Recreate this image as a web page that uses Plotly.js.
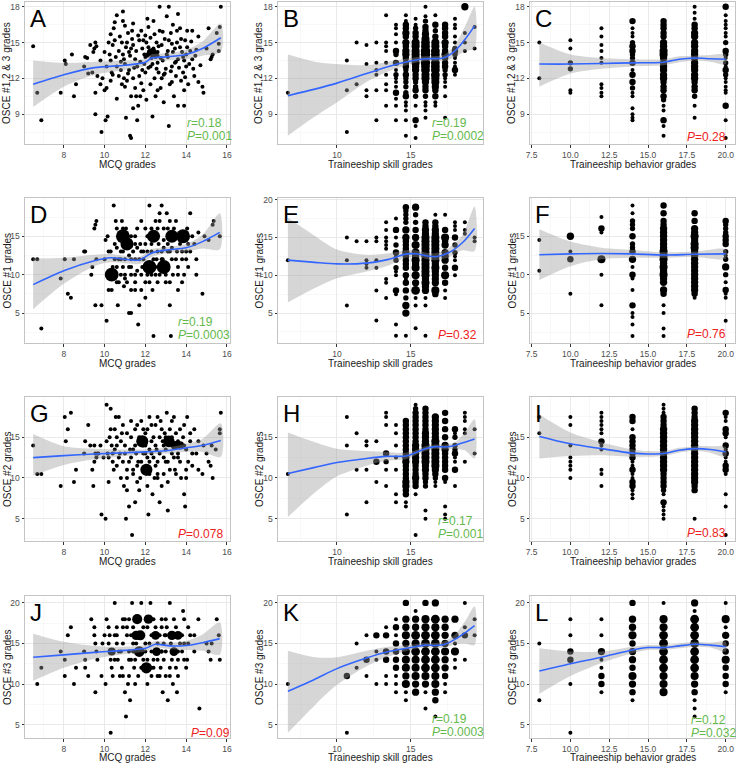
<!DOCTYPE html>
<html>
<head>
<meta charset="utf-8">
<script src="https://cdn.plot.ly/plotly-3.0.1.min.js"></script>
<style>body{margin:0;background:#fff}#chart{width:737px;height:763px}</style>
</head>
<body>
<div id="chart"></div>
<script>
// points: [x, y] or [x, y, count] ; grid panels: [x, [y | [y, count], ...]]
// fits (loess): [x, fit, lower, upper]

var ptsA = [[6.5,14.7],[6.7,10.8],[6.9,8.5],[7.85,10.8],[8.05,13.5],[8.1,13.2],[8.4,14.0],[8.5,10.5],[8.6,11.5],[9.0,13.0],[9.05,13.8],[9.15,13.7],[9.3,14.8],[9.4,12.5],[9.45,14.2],[9.5,14.5],[9.55,15.0],[9.55,10.8],[9.55,9.0],[9.6,14.7],[9.65,12.2],[9.8,11.5],[9.85,7.5],[10.0,14.2],[10.0,11.0],[10.05,8.5],[10.1,11.2],[10.15,8.8],[10.2,15.0],[10.25,14.0],[10.3,13.5],[10.35,12.5],[10.4,12.3],[10.45,16.2],[10.5,16.7],[10.5,15.2],[10.6,17.3],[10.6,13.0],[10.6,10.3],[10.7,14.3],[10.75,15.5],[10.8,12.7],[10.85,11.5],[10.9,16.8],[10.9,14.0],[10.95,12.0],[11.0,16.4],[11.0,13.2],[11.05,8.7],[11.1,11.8],[11.15,15.8],[11.2,14.2],[11.2,12.7],[11.25,7.2],[11.3,7.0],[11.3,10.5],[11.35,16.0],[11.4,14.8],[11.4,9.5],[11.5,13.6],[11.5,11.2],[11.55,10.5],[11.6,8.5],[11.65,9.7],[11.7,15.2],[11.7,12.2],[11.75,10.5],[11.8,16.0],[11.85,14.5],[11.9,11.0],[11.95,13.2],[12.0,15.6],[12.0,12.5],[12.05,10.2],[12.1,14.0],[12.15,16.3],[12.2,14.3],[12.25,13.0],[12.25,11.5],[12.3,14.1],[12.35,8.8],[12.4,14.5],[12.4,16.8],[12.45,12.0],[12.5,13.8],[12.5,10.5],[12.55,15.0],[12.6,14.2],[12.65,12.5],[12.7,18.0],[12.7,16.0],[12.75,11.2],[12.8,14.8],[12.85,13.5],[12.9,10.0],[12.95,15.3],[13.0,12.8],[13.05,17.2],[13.1,14.3],[13.15,8.0],[13.15,18.0],[13.2,11.5],[13.25,15.8],[13.3,13.0],[13.35,16.5],[13.4,10.5],[13.45,14.5],[13.5,12.2],[13.55,15.0],[13.6,9.7],[13.6,13.6],[13.7,16.2],[13.75,11.8],[13.8,14.2],[13.85,12.5],[13.9,9.7],[13.95,15.2],[14.0,13.0],[14.05,16.0],[14.1,11.5],[14.2,14.3],[14.3,16.0],[14.4,12.2],[14.5,14.4],[14.6,11.7],[14.8,11.3],[14.85,10.8],[15.0,14.5],[15.1,16.2],[15.2,13.6],[15.25,13.8],[15.3,14.0],[15.5,15.8],[15.6,14.3],[15.65,16.3],[15.7,18.0],[15.6,14.9],[12.2,14.0],[12.35,14.4],[12.45,13.9],[12.15,14.6],[12.3,13.7],[12.55,14.1],[12.25,14.2,3],[12.4,14.1,2],[10.8,13.4],[11.3,14.5],[11.6,13.0],[11.9,15.2],[12.0,13.8],[12.6,13.3],[12.9,12.3],[13.1,13.8],[13.3,14.9],[13.5,13.4],[13.7,14.6],[14.0,14.0],[11.1,15.0],[10.3,15.7],[13.9,13.5],[14.3,13.6],[12.8,12.0],[11.4,12.0],[10.1,13.0],[9.8,13.5],
  [10.4,14.8],[10.55,13.8],[10.7,12.2],[10.85,15.0],[10.95,13.6],[11.05,14.6],[11.15,12.4],[11.25,13.9],[11.35,15.3],[11.45,12.9],[11.55,14.3],[11.65,15.6],[11.75,13.4],[11.85,12.7],[11.95,14.0],[12.05,15.0],[12.15,12.9],[12.25,15.4],[12.35,13.2],[12.45,15.7],[12.55,12.8],[12.65,14.7],[12.75,13.7],[12.85,15.9],[12.95,12.4],[13.05,14.0],[13.15,15.2],[13.25,12.6],[13.35,14.2],[13.45,13.3],[13.55,16.0],[13.65,12.9],[13.75,15.3],[13.85,13.8],[13.95,12.1],[14.05,14.6],[14.15,13.2],[14.25,15.1],[14.35,12.8],[14.45,13.9],[14.6,15.5],[14.7,13.1],[12.3,14.3,2],[12.2,14.15,2],[12.45,14.3],[12.1,13.9],[12.6,13.9],[12.35,13.95],[11.0,11.3],[11.8,11.6],[12.6,11.0],[13.3,11.7],[13.9,11.0],[10.3,11.8],[11.4,16.6],[12.1,17.0],[13.6,17.4],[10.9,17.6],[9.9,12.0],[9.2,12.4]];
var fitA = [[6.5,11.5,9.6,13.5],[8,12.3,11.3,13.3],[9.5,12.9,12.3,13.4],[11,13.1,12.7,13.5],[12,13.35,13.05,13.65],[12.3,13.7,13.4,14.0],[13,13.8,13.5,14.1],[14,14.0,13.6,14.4],[14.8,14.5,13.9,15.1],[15.7,15.4,14.2,16.6]];

var gridB = [[6.67,[10.8]],[10.67,[13.5,11,7.5]],[11.33,[15,11.5]],[12,[14.8,13.2,11,10.5]],[12.67,[15,13.3,12.7,12.3,11,8.5]],[13.33,[17.3,15,14.7,14.3,13.3,12.3,11.5,11,9.7]],
  [14,[16.5,16.2,15.7,15,[14.3,3],[14,2],[13.3,3],12.7,[12.3,2],12,11.7,11.3,[10.8,3],10.3,9.7,8.5]],
  [14.67,[17.3,16.8,[16.5,3],[16.2,3],[15.8,4],[15.5,3],[15,4],[14.7,3],[14.3,4],[14,4],[13.7,3],[13.3,3],[13,3],[12.7,2],[12.3,3],[12,2],[11.7,2],[11.3,2],[10.8,2],[10.5,3],10,9.7,9.3,8.5,7.2]],
  [15.33,[17,16.5,[16.2,2],[15.8,3],[15.5,3],[15,5],[14.7,5],[14.3,5],[14,5],[13.7,5],[13.3,5],[13,4],[12.7,4],[12.3,3],[12,3],[11.7,2],[11.3,2],[11,3],[10.5,2],9.7,[8.5,3],8,7]],
  [16,[18,17.2,[16.8,2],[16.3,3],[16,3],[15.7,4],[15.3,5],[15,6],[14.7,6],[14.3,7],[14,7],[13.7,6],[13.3,7],[13,6],[12.7,6],[12.3,5],[12,5],[11.7,4],[11.3,3],[11,3],[10.5,2],10,9.7,9.3,8.7]],
  [16.67,[17.3,[16.5,3],[16,2],[15.5,3],[15,5],[14.7,5],[14.3,6],[14,6],[13.7,6],[13.3,6],[13,6],[12.7,6],[12.3,6],[12,5],[11.7,5],[11.3,4],[11,3],[10.5,3],10,9.7]],
  [17.33,[[16.5,3],[16.2,3],[15.8,3],[15.5,3],[15,4],[14.7,3],[14.3,3],[14,4],[13.7,3],[13.3,3],[13,3],[12.7,2],[12.3,2],12,11.7,11.3,10.5,8.7]],
  [18,[17,16.5,16.2,15.5,15,[14.5,2],[14.3,3],[14,2],13.7,13.3,13,[12.7,3],12.3]],[18.67,[[18,4],15.8,15,14.3]],[19.33,[16.3,14.5]]];
var fitB = [[6.67,10.55,7.2,14.0],[8.5,11.1,8.8,13.4],[10,11.6,10.0,13.2],[12,12.4,11.7,13.1],[13.5,13.0,12.6,13.4],[15,13.45,13.2,13.7],[16,13.65,13.45,13.85],[17.2,13.7,13.45,13.95],[18,14.3,13.8,14.8],[18.7,15.3,14.3,16.4],[19.33,16.4,14.5,18.0]];

var gridC = [[8,[15,12]],[10,[15.2,14.5,[13.3,2],[12.8,2],11,10.8]],[12,[16.2,15.5,14.8,14.3,13.7,13.3,11.5,11.2,10.8,10.5]],
  [14,[[16.8,3],16.2,15.8,15.5,[15,2],[14.7,3],[14.3,3],[14,2],[13.7,2],[13.3,3],12.7,[12.3,3],[11.7,3],[11.2,2],10.8,10.5,9.5,9,8.7,8.5]],
  [16,[[16.8,3],[16.5,3],[16.2,3],[15.8,3],[15.5,3],[15,4],[14.7,4],[14.3,5],[14,5],[13.7,4],[13.3,4],[13,4],[12.7,4],[12.3,4],[12,4],[11.7,3],[11.3,3],[11,3],[10.5,3],[10.2,2],9.7,9.3,[8.5,3],8,7.2]],
  [18,[18,17.5,17,[16.5,3],[16.2,3],[15.8,4],[15.5,4],[15,4],[14.7,4],[14.3,4],[14,4],[13.7,4],[13.3,4],[13,4],[12.7,4],[12.3,4],[12,4],[11.7,3],[11.3,3],[11,3],[10.5,2],9.7,8.7]],
  [20,[[18,3],17.3,16.8,16.5,16.2,15.8,15.5,[15,2],[14.3,3],[14,2],13.7,[13.3,2],13,[12.7,3],[12.3,2],12,11.7,11.3,11,10.8,[9.7,3],8.5,7]]];
var fitC = [[8,13.2,11.3,15.0],[10,13.2,12.4,14.0],[12,13.25,12.8,13.7],[14,13.3,13.0,13.6],[16,13.35,13.1,13.6],[17,13.6,13.35,13.85],[18,13.7,13.5,13.9],[19,13.65,13.4,13.95],[20,13.6,13.2,14.0]];

var ptsD = [[6.5,12],[6.7,12],[6.9,3],[7.85,9.5],[8.05,12],[8.2,7.5],[8.35,7],[8.5,12],[9.0,13],[9.05,13],[9.4,11],[9.5,16],[9.55,16.5],[9.6,17],[9.6,12],[9.55,6],[9.85,6],[9.35,10],[10.0,12],[10.05,14.5],[10.1,4],[10.15,15],[10.2,8],[10.3,13],[10.35,8],[10.45,19],[10.5,12],[10.55,17],[10.6,16],[10.65,6],[10.7,9],[10.8,13],[10.85,17],[10.9,11],[10.95,8.5],[11.0,12],[11.05,16],[11.1,9],[11.2,5],[11.3,5],[11.3,8],[11.4,13],[11.5,10],[11.5,12],[11.6,16],[11.65,3.5],[11.7,6],[11.75,14],[11.8,8],[11.85,11],[11.9,12],[12.0,16],[12.0,7],[12.1,13],[12.2,19],[12.3,10],[12.35,8],[12.4,2],[12.5,17],[12.55,12],[12.6,13],[12.65,14],[12.7,18],[12.8,19],[12.85,12],[12.9,16],[13.0,9],[13.05,18],[13.1,13],[13.2,6],[13.25,2],[13.3,12],[13.35,10],[13.5,17],[13.55,13],[13.6,8],[13.7,14],[13.8,12],[13.9,10],[14.0,13],[14.05,16],[14.1,11],[14.2,18],[14.3,15],[14.4,14],[14.5,10],[14.6,15.5],[14.8,7.5],[14.9,15],[15.1,14.5],[15.3,16.5],[15.35,17],[15.65,15],[11.5,9],[12.2,9],[13.0,10],[11.2,11],[10.9,13],[12.9,13.5],[13.2,13],[12.0,14],[11.5,15],[12.6,16],[10.2,10],[11.8,10],[10.6,11],[11.0,10],[12.4,12],[13.6,11],[11.3,12],[12.7,10],[10.8,12],[13.1,16],[11.9,13],[12.3,14],
  [10.5,14],[10.7,15],[11.3,15],[11.5,14],[11.8,13],[12.1,15],[12.6,15],[13.1,14],[13.6,15],[14.2,13],[10.4,11],[10.7,12],[11.3,11],[11.7,12],[12.0,11],[12.5,11],[12.8,12],[13.1,11],[13.5,12],[14.0,12],[10.6,9],[11.0,9.5],[11.5,8],[12.0,9],[12.6,9],[13.2,9],[13.8,9],[10.8,10],[11.3,10],[12.1,10],[12.5,10],[13.6,10],[10.2,13],[10.6,13.5],[11.6,13.5],[12.3,13],[12.8,13],[13.3,13.5],[13.8,13],[14.5,12],[12.7,17],[13.2,17],[11.8,17],[12.3,16],[13.4,16],[10.9,16],[14.1,14],[11.2,12.5],[12.9,14.5],[11.6,10.5],
  [10.35,10,16],[10.9,15,16],[11.1,14,14],[12.2,11,16],[12.4,15,14],[12.9,11,16],[13.3,15,14],[13.85,15,16]];
var fitD = [[6.5,8.7,5.5,12.1],[8,10.5,8.8,12.2],[9.5,11.8,11.1,12.6],[10.3,12.2,11.6,12.7],[11.7,11.9,11.4,12.3],[12.3,12.8,12.3,13.3],[13,13.2,12.8,13.6],[14,13.5,13.0,14.0],[14.8,14.3,13.4,15.2],[15.65,15.5,13.3,18.0]];

var gridE = [[6.67,[12]],[10.67,[15,12,6]],[11.33,[14.5]],[12,[14.5,12,11.5,11]],[12.67,[15,14.5,12,11,8,4]],[13.33,[17,16,15,14.5,14,13.5,9.5,9,7]],
  [14,[17.5,[16,3],15,[14,2],[13,3],12.5,[12,2],[11,2],10.5,10,[8,3],7.5,3.5,2]],
  [14.67,[[19,3],[18.5,2],[18,2],[17.5,2],[17,2],[16,4],[15,4],[14.5,3],[14,3],[13.5,3],[13,4],[12.5,3],[12,3],[11.5,3],[11,3],[10,3],9.5,[9,3],[8,3],[7,2],[6,4],[5,4],2]],
  [15.33,[[19,4],[18,2],[17,2],[16,3],[15,4],[14,5],[13,5],[12.5,4],[12,5],[11.5,4],[11,5],[10,5],[9,4],[8,6],7,6,3]],
  [16,[[17,3],[16.5,3],[16,4],[15.5,4],[15,5],[14.5,5],[14,5],[13.5,5],[13,5],[12.5,5],[12,5],[11.5,5],[11,5],[10.5,5],[10,5],[9.5,4],[9,5],[8.5,4],[8,4],7,6,2]],
  [16.67,[18,[17,3],[16.5,3],[16,4],[15.5,4],[15,5],[14.5,5],[14,5],[13.5,5],[13,5],[12.5,5],[12,5],[11.5,4],[11,5],[10.5,4],[10,4],[9.5,4],[9,4],[8,5],[7.5,3]]],
  [17.33,[18,[16,3],[15,5],[14.5,3],[14,4],[13,4],[12.5,4],[12,4],[11,3],[10,5],[9,3],8,7]],
  [18,[17,16.5,16,[15,3],[14,2],[13,2],12.5,12,[11,3],10]],[18.67,[17,16,15.5]],[19.33,[15,14.5]]];
var fitE = [[6.67,12.0,6.4,17.6],[8.5,11.7,8.3,15.2],[10,11.5,9.6,13.4],[12,11.6,10.5,12.7],[13.5,12.1,11.3,12.9],[14.67,12.8,12.3,13.3],[15.3,12.85,12.4,13.3],[16,12.6,12.2,13.0],[16.67,12.45,12.0,12.9],[17.5,12.9,12.3,13.5],[18.5,14.3,13.3,15.3],[19.33,16.2,13.2,19.1]];

var gridF = [[8,[14.5,10.5]],[10,[[15,4],13,[12,3],7.5]],[12,[17.5,[16,3],15.5,[12,5],10,6]],
  [14,[19,18,[17,2],[16.5,2],[16,2],[15,3],[14,2],[13.5,2],[13,3],[12,4],11,[10,3],9.5,8,[6,3],5,4.5,3.5,2]],
  [16,[[19,3],[18,3],[17,3],[16.5,3],[16,4],[15.5,4],[15,4],[14.5,4],[14,4],[13.5,4],[13,5],[12.5,5],[12,5],[11.5,4],[11,5],[10.5,4],[10,5],[9.5,4],[9,4],[8,4],[7.5,3],6,5,3,2]],
  [18,[[18,3],[17,3],[16,4],[15.5,4],[15,5],[14.5,4],[14,5],[13.5,5],[13,4],[12.5,4],[12,4],[11.5,4],[11,4],[10.5,4],[10,4],[9.5,4],[9,4],[8.5,4],[8,4],[7.5,3],7]],
  [20,[[17,3],[16.5,2],[16,2],[15.5,2],[15,3],[14.5,3],[14,3],[13,2],12.5,[12,2],[11,4],[10,2],9,[8,3],7.5,7,4]]];
var fitF = [[8,12.6,9.3,15.9],[10,12.7,11.1,14.3],[12,12.75,12.0,13.5],[14,12.7,12.2,13.2],[16,12.55,12.2,12.9],[18,12.65,12.3,13.0],[20,12.7,12.1,13.3]];

var ptsG = [[6.5,14],[6.7,10.5],[6.9,10.5],[7.85,9],[8.05,17.5],[8.1,14.5],[8.2,16],[8.35,18],[8.5,9.5],[8.6,11],[9.0,13],[9.05,14.5],[9.2,16.5],[9.3,14],[9.4,11],[9.45,9],[9.5,12],[9.55,13],[9.6,12.5],[9.65,13],[9.85,5.5],[9.95,12.5],[10.05,5],[10.1,19],[10.15,13],[10.2,9.5],[10.25,15],[10.3,18.5],[10.35,14],[10.4,12],[10.45,11],[10.5,16],[10.55,17.5],[10.6,14],[10.7,17.5],[10.75,13],[10.8,10],[10.85,15.5],[10.9,12],[10.95,9],[11.05,5],[11.1,8.5],[11.2,6.5],[11.25,13.5],[11.3,15],[11.35,3],[11.4,11],[11.5,7],[11.55,13],[11.6,16.5],[11.65,12],[11.7,8.5],[11.75,10],[11.8,17],[11.9,13],[12.0,15.5],[12.1,12.5],[12.15,5.5],[12.2,17.5],[12.3,13],[12.35,8],[12.4,15],[12.45,10],[12.5,16.5],[12.55,13.5],[12.6,12],[12.7,7],[12.75,17],[12.8,9],[12.85,14.5],[12.9,10.5],[12.95,15.5],[13.05,18],[13.1,6],[13.1,12],[13.2,16],[13.3,13],[13.4,17.5],[13.45,11],[13.5,15.5],[13.6,12.5],[13.7,16],[13.75,10],[13.85,15],[13.9,8],[13.95,6.5],[14.0,13.5],[14.05,17.5],[14.1,12],[14.2,14.5],[14.3,11.5],[14.4,16],[14.5,13],[14.6,11],[14.8,10.5],[14.85,14],[15.0,13],[15.1,12],[15.2,11.5],[15.25,14],[15.3,10],[15.45,13.5],[15.65,16],[15.7,18],[15.65,15.5],[10.5,13.5],[11.0,14],[11.5,14],[12.0,14],[12.5,14],[13.0,13.5],[11.8,12],[12.4,12.5],[10.8,14.5],[11.3,12.5],[11.9,16],[12.3,16.5],[12.7,15],[13.3,15],[12.2,10.5],[12.9,12.5],[11.1,11],[13.6,13],[12.6,10],[11.4,10.5],
  [10.3,16],[10.6,15],[10.9,16.5],[11.1,15.5],[11.3,17],[11.5,16],[11.7,15],[12.1,16],[12.3,14.5],[12.6,17.5],[12.8,16],[13.0,15],[13.3,17],[13.6,14.5],[13.9,16.5],[14.2,15.5],[10.4,13],[10.7,12.5],[11.0,13],[11.2,12],[11.4,13.5],[11.6,11.5],[12.0,13],[12.2,12],[12.5,11.5],[12.7,13],[13.0,12],[13.2,11],[13.4,12.5],[13.7,12],[14.0,11],[14.3,13],[10.6,11.5],[11.1,10],[11.6,9.5],[12.1,9],[12.6,10.5],[13.1,9.5],[13.5,10.5],[14.0,10],[10.1,14.5],[9.8,14],[9.5,14],[9.7,13],[11.9,14],[12.2,13.5],[12.9,14],[13.9,14],[14.6,14.5],[10.2,12.5],
  [11.85,14.5,12],[12.05,11,12],[13.15,14.5,11],[13.45,14,6],[13.7,14,5]];
var fitG = [[6.5,12.5,10.3,15.4],[8,12.75,11.6,13.9],[9.5,12.95,12.3,13.6],[11,13.1,12.7,13.5],[12,13.2,12.9,13.5],[13,13.35,13.0,13.7],[14,13.7,13.2,14.2],[14.8,14.0,13.2,14.8],[15.7,14.6,12.6,16.7]];

var gridH = [[6.67,[10.5]],[10.67,[17.5,14,5.5]],[11.33,[15.5,11]],[12,[14.5,14,11,7]],[12.67,[14.5,[12,3],9.5]],[13.33,[18,17.5,16.5,[13,3],[12,2],11,9]],[14,[16.5,15.5,14,12.5,11,8,7]],
  [14.67,[[17,3],[16.5,3],[16,3],[15.5,3],[15,3],[14.5,3],[14,3],[13.5,3],[13,3],[12.5,4],[12,4],[11.5,3],[11,3],[10.5,3],[10,3],[9.5,4],[9,4],[8.5,3],[8,3],7,6.5]],
  [15.33,[19,[18.5,2],[18,3],[17.5,3],[17,3],[16.5,3],[16,3],[15.5,3],[15,3],[14.5,3],[14,4],[13.5,4],[13,4],[12.5,4],[12,4],[11.5,3],[11,3],[10.5,3],[10,4],[9.5,3],[9,3],8,3]],
  [16,[[18.5,3],[18,3],[17.5,3],[17,3],[16.5,3],[16,3],[15.5,4],[15,4],[14.5,4],[14,5],[13.5,5],[13,5],[12.5,5],[12,5],[11.5,4],[11,4],[10.5,3],[10,3],[9.5,2],[9,2],6,5]],
  [16.67,[[17.5,4],[17,4],[16.5,4],[16,4],[15.5,4],[15,4],[14.5,5],[14,5],[13.5,5],[13,5],[12.5,5],[12,5],[11.5,5],[11,4],[10.5,3],[10,2],9.5,9]],
  [17.33,[[18,3],[17,3],[16,3],[15,3],[14,4],[13.5,4],[13,3],[12.5,3],[12,3],[11.5,3],[11,3],[10,3],9.5,6.5,5.5,5]],
  [18,[[16,3],15.5,[15,2],[14,2],[13.5,2],[13,3],12.5,12,[11,3],9]],[18.67,[18,17.5,17,16,15.5,12]],[19.33,[16,13]]];
var fitH = [[6.67,10.55,5.2,15.6],[8.5,11.3,8.2,14.4],[10,11.9,10.2,13.6],[12,12.4,11.5,13.3],[13.33,12.65,12.1,13.2],[14.67,12.7,12.3,13.1],[15.33,13.1,12.8,13.4],[16,13.6,13.3,13.9],[16.67,13.85,13.6,14.1],[17.33,13.8,13.5,14.1],[18,14.0,13.6,14.4],[18.67,14.4,13.4,15.6],[19.33,14.8,12.4,17.2]];

var gridI = [[8,[17.5,15.5]],[10,[17.5,16.5,14,12.5,12,11.5,11,10]],[12,[18,17.5,17,16.5,16,15.5,[14.5,3],14,13.5,11,10.5,9]],
  [14,[[17.5,3],[17,3],16,[15,3],[14.5,3],[14,3],[13.5,3],[13,3],[12.5,3],12,11.5,[11,3],10.5,10,[9.5,3],[9,3],8.5,8,7.5]],
  [16,[19,18.5,18,[17.5,3],[17,3],[16.5,3],[16,4],[15.5,4],[15,4],[14.5,4],[14,4],[13.5,4],[13,4],[12.5,4],[12,4],[11.5,4],[11,4],[10.5,3],[10,3],[9.5,3],[9,3],[8.5,2],8,[7,3],6.5,6,5.5,5]],
  [18,[[18.5,3],[18,3],[17.5,3],[17,4],[16.5,4],[16,4],[15.5,4],[15,4],[14.5,4],[14,4],[13.5,4],[13,4],[12.5,4],[12,4],[11.5,4],[11,4],[10.5,4],[10,4],[9.5,4],[9,3],[8.5,3],5]],
  [20,[[18,3],17.5,17,[16,3],[15.5,3],15,[14,3],13.5,[13,3],12.5,12,[11.5,3],[11,3],10.5,8,6.5,3]]];
var fitI = [[8,15.1,12.4,17.8],[10,14.2,12.7,15.6],[12,13.6,12.8,14.4],[14,13.05,12.6,13.5],[15,12.95,12.6,13.3],[16,13.0,12.7,13.3],[17,13.4,13.1,13.7],[18,13.6,13.3,13.9],[19,13.5,13.1,13.9],[20,13.2,12.6,13.8]];

var ptsJ = [[6.7,10],[6.9,12],[7.85,14],[8.05,13],[8.05,11],[8.2,16],[8.35,17],[8.5,10],[8.6,12],[9.0,14],[9.05,13],[9.05,12],[9.2,11],[9.35,18],[9.5,17],[9.5,16],[9.55,15],[9.55,9],[9.6,14],[9.65,13],[9.85,11],[9.9,15],[10.05,10],[10.1,18],[10.2,17],[10.25,16],[10.3,13],[10.3,4],[10.35,12],[10.4,11],[10.5,20],[10.6,15],[10.65,13],[10.75,11],[10.85,12],[10.9,17],[11.0,9],[11.05,6],[11.15,10],[11.25,8],[11.3,13],[11.35,20],[11.4,17],[11.45,12],[11.55,15],[11.65,11],[11.8,20],[11.9,13],[12.0,15],[12.1,17],[12.25,20],[12.3,11],[12.4,13],[12.5,17],[12.6,15],[12.75,12],[12.85,9],[12.9,13],[13.0,11],[13.05,17],[13.1,8],[13.2,20],[13.25,15],[13.35,10],[13.5,12],[13.55,9],[13.6,13],[13.7,15],[13.85,19],[13.9,18],[14.0,12],[14.05,13],[14.1,15],[14.2,16],[14.4,14],[14.6,18],[14.65,7],[15.0,15],[15.1,14],[15.2,13],[15.25,15],[15.5,18],[15.6,16],[15.65,13],[10.0,16],[10.8,14],[11.2,14],[12.2,15],[12.9,15],[13.0,14],[11.0,18],[12.8,18],[10.6,16],[11.1,16],[12.3,12],[11.5,13],[13.2,12],[12.7,11],[11.2,11],[13.8,14],[14.4,16],[12.95,16],[11.9,17],[12.8,14],
  [10.5,16],[10.9,15],[11.3,16],[11.4,15],[12.3,16],[12.7,16],[13.0,16],[13.8,16],[10.7,14],[11.4,14],[12.0,14],[12.3,14],[12.8,14.0],[13.6,14],[13.9,15],[10.2,15],[10.5,13],[11.2,13],[12.1,13],[12.6,13],[13.3,13],[13.9,13],[10.9,11],[11.5,10],[12.1,10],[12.6,11],[13.2,11],[13.6,11],[11.8,12],[12.4,12],[10.9,18],[11.2,18],[12.4,18],[13.0,18],[13.4,18],[10.6,17],[11.1,17],[12.8,17],[13.5,17],[14.1,17],
  [11.6,18,8],[12.15,18,7],[11.55,16,7],[11.75,16,8],[12.5,16,6],[13.3,16,7],[13.6,16,6],[11.7,14,9],[12.55,14,6],[13.4,14,6],[10.35,14,5],[12.05,12,10]];
var fitJ = [[6.5,13.3,10.4,16.2],[8,13.6,12.0,15.2],[9.5,13.9,13.1,14.7],[11,14.15,13.7,14.6],[12,14.4,14.0,14.8],[12.5,14.9,14.5,15.3],[13.2,14.7,14.3,15.1],[14,14.75,14.2,15.3],[14.8,15.1,14.1,16.1],[15.65,15.6,13.6,17.6]];

var gridK = [[6.67,[10]],[10.67,[[11,3],4]],[11.33,[15,12]],[12,[16,[13,3],11]],[12.67,[[16,3],14,13,10]],[13.33,[17,[16,3],[14,3],[13,3],11,10]],
  [14,[18,[17,3],16,[15,3],[14,3],[13,3],[12,3],11,10,9]],
  [14.67,[[20,3],[18,4],[17,4],[16,5],[15,4],[14,5],[13,5],[12,5],[11,4],[10,5],9,8]],
  [15.33,[19,[18,4],[17,4],[16,6],[15,5],[14,6],[13,5],[12,5],[11,5],[10,4],[9,4]]],
  [16,[[20,3],[18,5],[17,5],[16,6],[15,6],[14,6],[13,6],[12,6],[11,5],[10,4],9,7]],
  [16.67,[[20,4],[18,6],[17,5],[16,6],[15,6],[14,6],[13,6],[12,6],[11,5],[10,5],[9,4],[8,3],6]],
  [17.33,[[18,4],[17,4],[16,4],[15,4],[14,5],[13,4],[12,4],[11,3],10,9]],
  [18,[[18,4],[16,4],15,[14,5],13,12]],[18.67,[20,17,[16,3],13]],[19.33,[18,16]]];
var fitK = [[6.67,9.1,4.0,14.1],[8.5,10.6,7.4,13.3],[10,11.9,9.9,13.3],[12,13.2,12.2,14.1],[13.5,14.0,13.4,14.6],[15,14.5,14.2,14.85],[16,14.8,14.5,15.1],[16.67,14.75,14.45,15.05],[17.33,14.9,14.5,15.3],[18,15.5,14.9,16.1],[18.67,16.3,15.0,17.7],[19.33,17.2,14.8,19.6]];

var gridL = [[8,[15,8]],[10,[18,16,[14,3],[13,3],10,4]],[12,[18,16,[14,4],13,12,[11,3],[10,3],9]],
  [14,[[20,3],[18,4],[17,4],[16,5],[15,3],[14,4],[13,4],[12,3],[11,5],[10,4],[9,3],8]],
  [16,[20,[18,5],[17,5],[16,6],[15,6],[14,6],[13,6],[12,6],[11,5],[10,5],[9,5]]],
  [18,[[20,4],19,[18,6],[17,6],[16,6],[15,6],[14,6],[13,6],[12,6],[11,5],[10,4],[9,3],8,7,6]],
  [20,[20,[18,5],17,[16,4],[15,3],[14,3],[13,5],[12,3],[11,3],[10,3],9]]];
var fitL = [[8,11.6,8.8,14.4],[10,12.5,11.0,14.0],[12,13.3,12.6,14.0],[14,14.2,13.8,14.6],[15,14.5,14.2,14.8],[16,14.5,14.2,14.8],[17,14.7,14.4,15.0],[18,14.9,14.6,15.2],[19,14.8,14.5,15.1],[20,14.6,14.0,15.2]];

var letters = ['A','B','C','D','E','F','G','H','I','J','K','L'];
var xTitles = ['MCQ grades', 'Traineeship skill grades', 'Traineeship behavior grades'];
var yTitles = ['OSCE #1,2 & 3 grades', 'OSCE #1 grades', 'OSCE #2 grades', 'OSCE #3 grades'];
// [r text or null, P text, significant?]
var stats = [['0.18','0.001',1],['0.19','0.0002',1],[null,'0.28',0],['0.19','0.0003',1],[null,'0.32',0],[null,'0.76',0],
             [null,'0.078',0],['0.17','0.001',1],[null,'0.83',0],[null,'0.09',0],['0.19','0.0003',1],['0.12','0.032',1]];

var W = 737, H = 763;
var colPx = [[25,230],[278,483],[530,735]];
var rowPx = [[2,144],[198,343],[397,541],[596,738]];
var xRange = [[6.1,16.15],[6.0,19.9],[7.4,20.6]];
var xDt = [2,5,2.5];
var yRange = [[[6.5,18.4],[6.5,18.4],[6.5,18.4]],[[1.1,19.98],[1.04,20.22],[1.1,19.98]],[[2.25,19.95],[2.25,19.95],[2.25,19.95]],[[3.35,20.85],[3.35,20.85],[3.35,20.85]]];
var yDt = [3,5,5,5];
var statLeft = [185,430,685,176,436,685,176,436,685,189,430,689];
var statP = [136,136,137.5,335,335,334,534,534,533,733,732,733];

var panels = [
  {pts: ptsA, fit: fitA}, {grid: gridB, fit: fitB}, {grid: gridC, fit: fitC},
  {pts: ptsD, fit: fitD}, {grid: gridE, fit: fitE}, {grid: gridF, fit: fitF},
  {pts: ptsG, fit: fitG}, {grid: gridH, fit: fitH}, {grid: gridI, fit: fitI},
  {pts: ptsJ, fit: fitJ}, {grid: gridK, fit: fitK}, {grid: gridL, fit: fitL}
];

function px2x(p) { return p / W; }
function px2y(p) { return 1 - p / H; }

var data = [], annotations = [];
var layout = {
  width: W, height: H,
  margin: {l: 0, r: 0, t: 0, b: 0},
  paper_bgcolor: 'white', plot_bgcolor: 'white',
  showlegend: false,
  font: {family: 'Liberation Sans, Arial, sans-serif', color: '#1a1a1a'},
  annotations: annotations
};

var green = '#64b94c', red = '#ee2222';

panels.forEach(function(p, i) {
  var r = Math.floor(i / 3), c = i % 3;
  var xs = i === 0 ? 'x' : 'x' + (i + 1);
  var ys = i === 0 ? 'y' : 'y' + (i + 1);
  var xk = i === 0 ? 'xaxis' : 'xaxis' + (i + 1);
  var yk = i === 0 ? 'yaxis' : 'yaxis' + (i + 1);

  // scatter points, size grows with the count at that spot
  var px = [], py = [], pn = [];
  if (p.pts) {
    p.pts.forEach(function(d) { px.push(d[0]); py.push(d[1]); pn.push(d[2] || 1); });
  } else {
    p.grid.forEach(function(col) {
      col[1].forEach(function(v) {
        var yy = typeof v === 'number' ? v : v[0];
        var nn = typeof v === 'number' ? 1 : v[1];
        px.push(col[0]); py.push(yy); pn.push(nn);
      });
    });
  }
  data.push({
    type: 'scatter', mode: 'markers', x: px, y: py, xaxis: xs, yaxis: ys,
    marker: {color: '#000', opacity: 1, size: pn.map(function(n) { return 4 + 3.3 * (Math.sqrt(n) - 1); }), line: {width: 0}},
    hoverinfo: 'skip'
  });

  // confidence band + loess line
  var fx = p.fit.map(function(d) { return d[0]; });
  var fy = p.fit.map(function(d) { return d[1]; });
  var lo = p.fit.map(function(d) { return d[2]; });
  var hi = p.fit.map(function(d) { return d[3]; });
  data.push({
    type: 'scatter', mode: 'lines', xaxis: xs, yaxis: ys,
    x: fx.concat(fx.slice().reverse()), y: hi.concat(lo.slice().reverse()),
    fill: 'toself', fillcolor: 'rgba(153,153,153,0.4)', line: {width: 0, shape: 'spline', smoothing: 0.8},
    hoverinfo: 'skip'
  });
  data.push({
    type: 'scatter', mode: 'lines', x: fx, y: fy, xaxis: xs, yaxis: ys,
    line: {color: '#3366FF', width: 1.6, shape: 'spline', smoothing: 0.8}, hoverinfo: 'skip'
  });

  var common = {
    ticks: 'outside', ticklen: 2.5, tickwidth: 1, tickcolor: '#333',
    tickfont: {size: 8.5, color: '#4d4d4d'},
    showline: true, mirror: true, linecolor: '#c4c4c4', linewidth: 1,
    showgrid: true, gridcolor: '#e9e9e9', gridwidth: 1,
    zeroline: false, automargin: false, fixedrange: true, tick0: 0
  };
  layout[xk] = Object.assign({}, common, {
    domain: [px2x(colPx[c][0]), px2x(colPx[c][1])], anchor: ys,
    range: xRange[c], dtick: xDt[c], tickformat: c === 2 ? '.1f' : '',
    minor: {dtick: xDt[c] / 2, tick0: 0, showgrid: true, gridcolor: '#f4f4f4', gridwidth: 0.6}
  });
  layout[yk] = Object.assign({}, common, {
    domain: [px2y(rowPx[r][1]), px2y(rowPx[r][0])], anchor: xs,
    range: yRange[r][c], dtick: yDt[r],
    minor: {dtick: yDt[r] / 2, tick0: 0, showgrid: true, gridcolor: '#f4f4f4', gridwidth: 0.6}
  });

  // panel letter
  annotations.push({
    xref: 'paper', yref: 'paper', x: px2x(colPx[c][0] + 3), y: px2y(rowPx[r][0] + 1),
    xanchor: 'left', yanchor: 'top', showarrow: false, text: letters[i],
    font: {size: 24, color: '#000'}
  });
  // statistics
  var s = stats[i], col = s[2] ? green : red;
  annotations.push({
    xref: 'paper', yref: 'paper', x: px2x(statLeft[i]), y: px2y(statP[i]),
    xanchor: 'left', yanchor: 'middle', showarrow: false,
    text: '<i>P</i>=' + s[1], font: {size: 12, color: col}
  });
  if (s[0]) {
    annotations.push({
      xref: 'paper', yref: 'paper', x: px2x(statLeft[i]), y: px2y(statP[i] - 13.5),
      xanchor: 'left', yanchor: 'middle', showarrow: false,
      text: '<i>r</i>=' + s[0], font: {size: 12, color: col}
    });
  }
});

// axis titles
var xTitleY = [164, 363, 561, 757.5];
var yTitleX = [7, 259, 512];
for (var r = 0; r < 4; r++) {
  for (var c = 0; c < 3; c++) {
    annotations.push({
      xref: 'paper', yref: 'paper', x: px2x((colPx[c][0] + colPx[c][1]) / 2), y: px2y(xTitleY[r]),
      xanchor: 'center', yanchor: 'middle', showarrow: false, text: xTitles[c],
      font: {size: 10, color: '#1a1a1a'}
    });
    annotations.push({
      xref: 'paper', yref: 'paper', x: px2x(yTitleX[c]), y: px2y((rowPx[r][0] + rowPx[r][1]) / 2),
      xanchor: 'center', yanchor: 'middle', showarrow: false, textangle: -90, text: yTitles[r],
      font: {size: 10, color: '#1a1a1a'}
    });
  }
}

Plotly.newPlot('chart', data, layout, {displayModeBar: false, staticPlot: true});
</script>
</body>
</html>
